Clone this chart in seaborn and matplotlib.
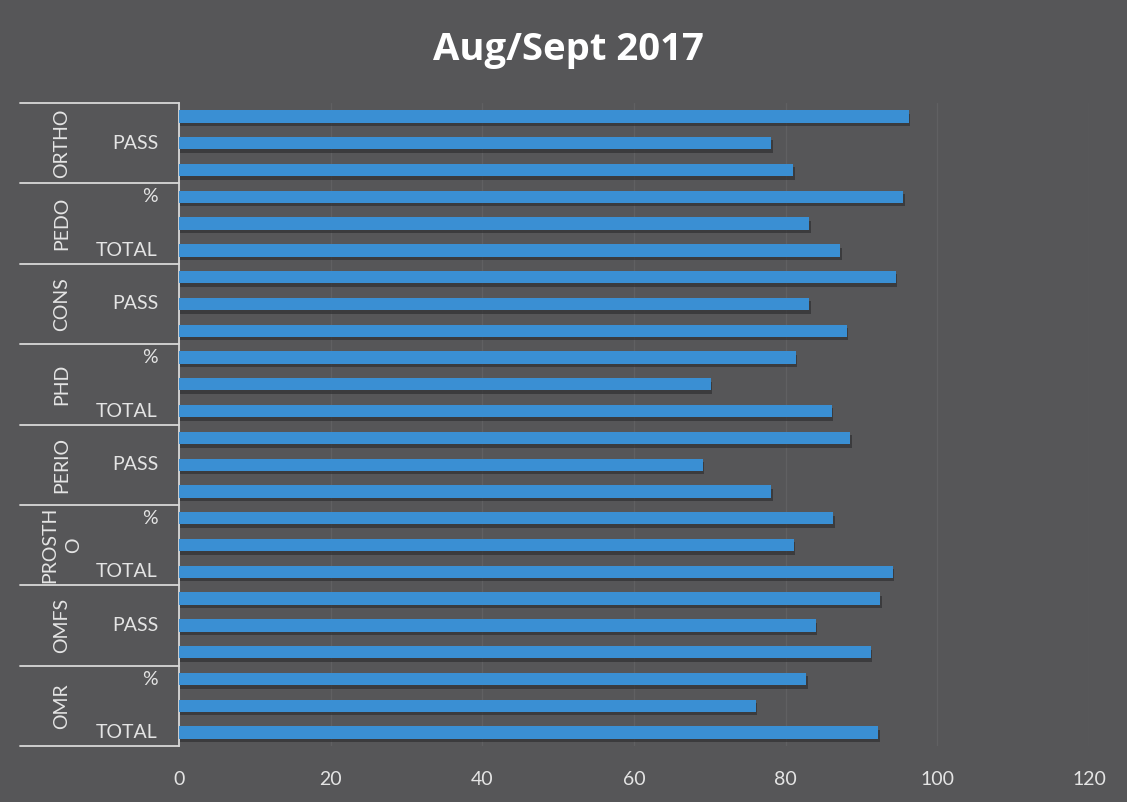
import matplotlib
matplotlib.use("Agg")
import matplotlib.pyplot as plt
import matplotlib.patheffects as pe
import seaborn as sns
import pandas as pd

# ---- data (top to bottom) ----
groups = ["ORTHO", "PEDO", "CONS", "PHD", "PERIO", "PROSTHO", "OMFS", "OMR"]
group_labels = ["ORTHO", "PEDO", "CONS", "PHD", "PERIO", "PROSTH\nO", "OMFS", "OMR"]
metrics = ["%", "PASS", "TOTAL"]
values = [
    96.2, 78.1, 81.0,   # ORTHO
    95.5, 83.1, 87.2,   # PEDO
    94.5, 83.1, 88.1,   # CONS
    81.3, 70.1, 86.1,   # PHD
    88.5, 69.1, 78.1,   # PERIO
    86.3, 81.1, 94.1,   # PROSTHO
    92.5, 84.0, 91.2,   # OMFS
    82.7, 76.1, 92.2,   # OMR
]
xticks = [0, 20, 40, 60, 80, 100, 120]
title = "Aug/Sept 2017"

rows = []
for gi, g in enumerate(groups):
    for mi, m in enumerate(metrics):
        rows.append({"group": g, "metric": m, "key": f"{g}|{m}",
                     "value": values[gi * 3 + mi]})
df = pd.DataFrame(rows)
order = list(df["key"])

BG = "#565658"
TXT = "#e4e4e4"
BAR = "#3a8fd3"

sns.set_theme(style="dark")
plt.rcParams["font.family"] = ["Lato", "DejaVu Sans"]

fig = plt.figure(figsize=(11.27, 8.02), dpi=100, facecolor=BG)
ax = fig.add_axes([179 / 1127, 1 - 746 / 802, (1089 - 179) / 1127, (746 - 103) / 802])
ax.set_facecolor(BG)

sns.barplot(data=df, x="value", y="key", order=order, orient="h",
            color=BAR, width=0.46, saturation=1, ax=ax, zorder=3)
for p in ax.patches:
    p.set_edgecolor("none")
    p.set_path_effects([pe.SimplePatchShadow(offset=(1, -2.5), shadow_rgbFace="#303032", alpha=0.7),
                        pe.Normal()])

n = len(order)
ax.set_ylim(n - 0.5, -0.5)
ax.set_xlim(0, 120)
ax.set_xticks(xticks)
ax.set_xticklabels([str(t) for t in xticks], color=TXT, fontsize=14)
ax.tick_params(axis="x", length=0, pad=18)
ax.tick_params(axis="y", length=0)
ax.set_yticklabels([])
ax.set_xlabel("")
ax.set_ylabel("")
ax.grid(axis="x", color="#606062", linewidth=1, zorder=0)
ax.grid(axis="y", visible=False)
for s in ["top", "right", "bottom"]:
    ax.spines[s].set_visible(False)
ax.spines["left"].set_color("#d8d8d8")
ax.spines["left"].set_linewidth(1.3)

# ---- multi-level category table on the left ----
trans = ax.get_yaxis_transform()  # x in axes coords, y in data coords
left_ax = (20 - 179) / (1089 - 179)
grp_x = (62 - 179) / (1089 - 179)
lab_x = (158 - 179) / (1089 - 179)
for gi in range(len(groups) + 1):
    yb = gi * 3 - 0.5
    ax.plot([left_ax, 0], [yb, yb], transform=trans, color="#d8d8d8",
            lw=1.3, clip_on=False)
for gi, gl in enumerate(group_labels):
    yc = gi * 3 + 1
    ax.text(grp_x, yc, gl, transform=trans, rotation=90, ha="center",
            va="center", color=TXT, fontsize=14, linespacing=1.5)
for i, key in enumerate(order):
    if (n - 1 - i) % 2 == 0:
        ax.text(lab_x, i, key.split("|")[1], transform=trans, ha="right",
                va="center", color=TXT, fontsize=14)

fig.text(568 / 1127, 1 - 50 / 802, title, ha="center", va="center",
         color="white", fontsize=27.5, fontweight="bold",
         family=["Open Sans", "DejaVu Sans"])

fig.savefig("out.png", dpi=100, facecolor=BG)
